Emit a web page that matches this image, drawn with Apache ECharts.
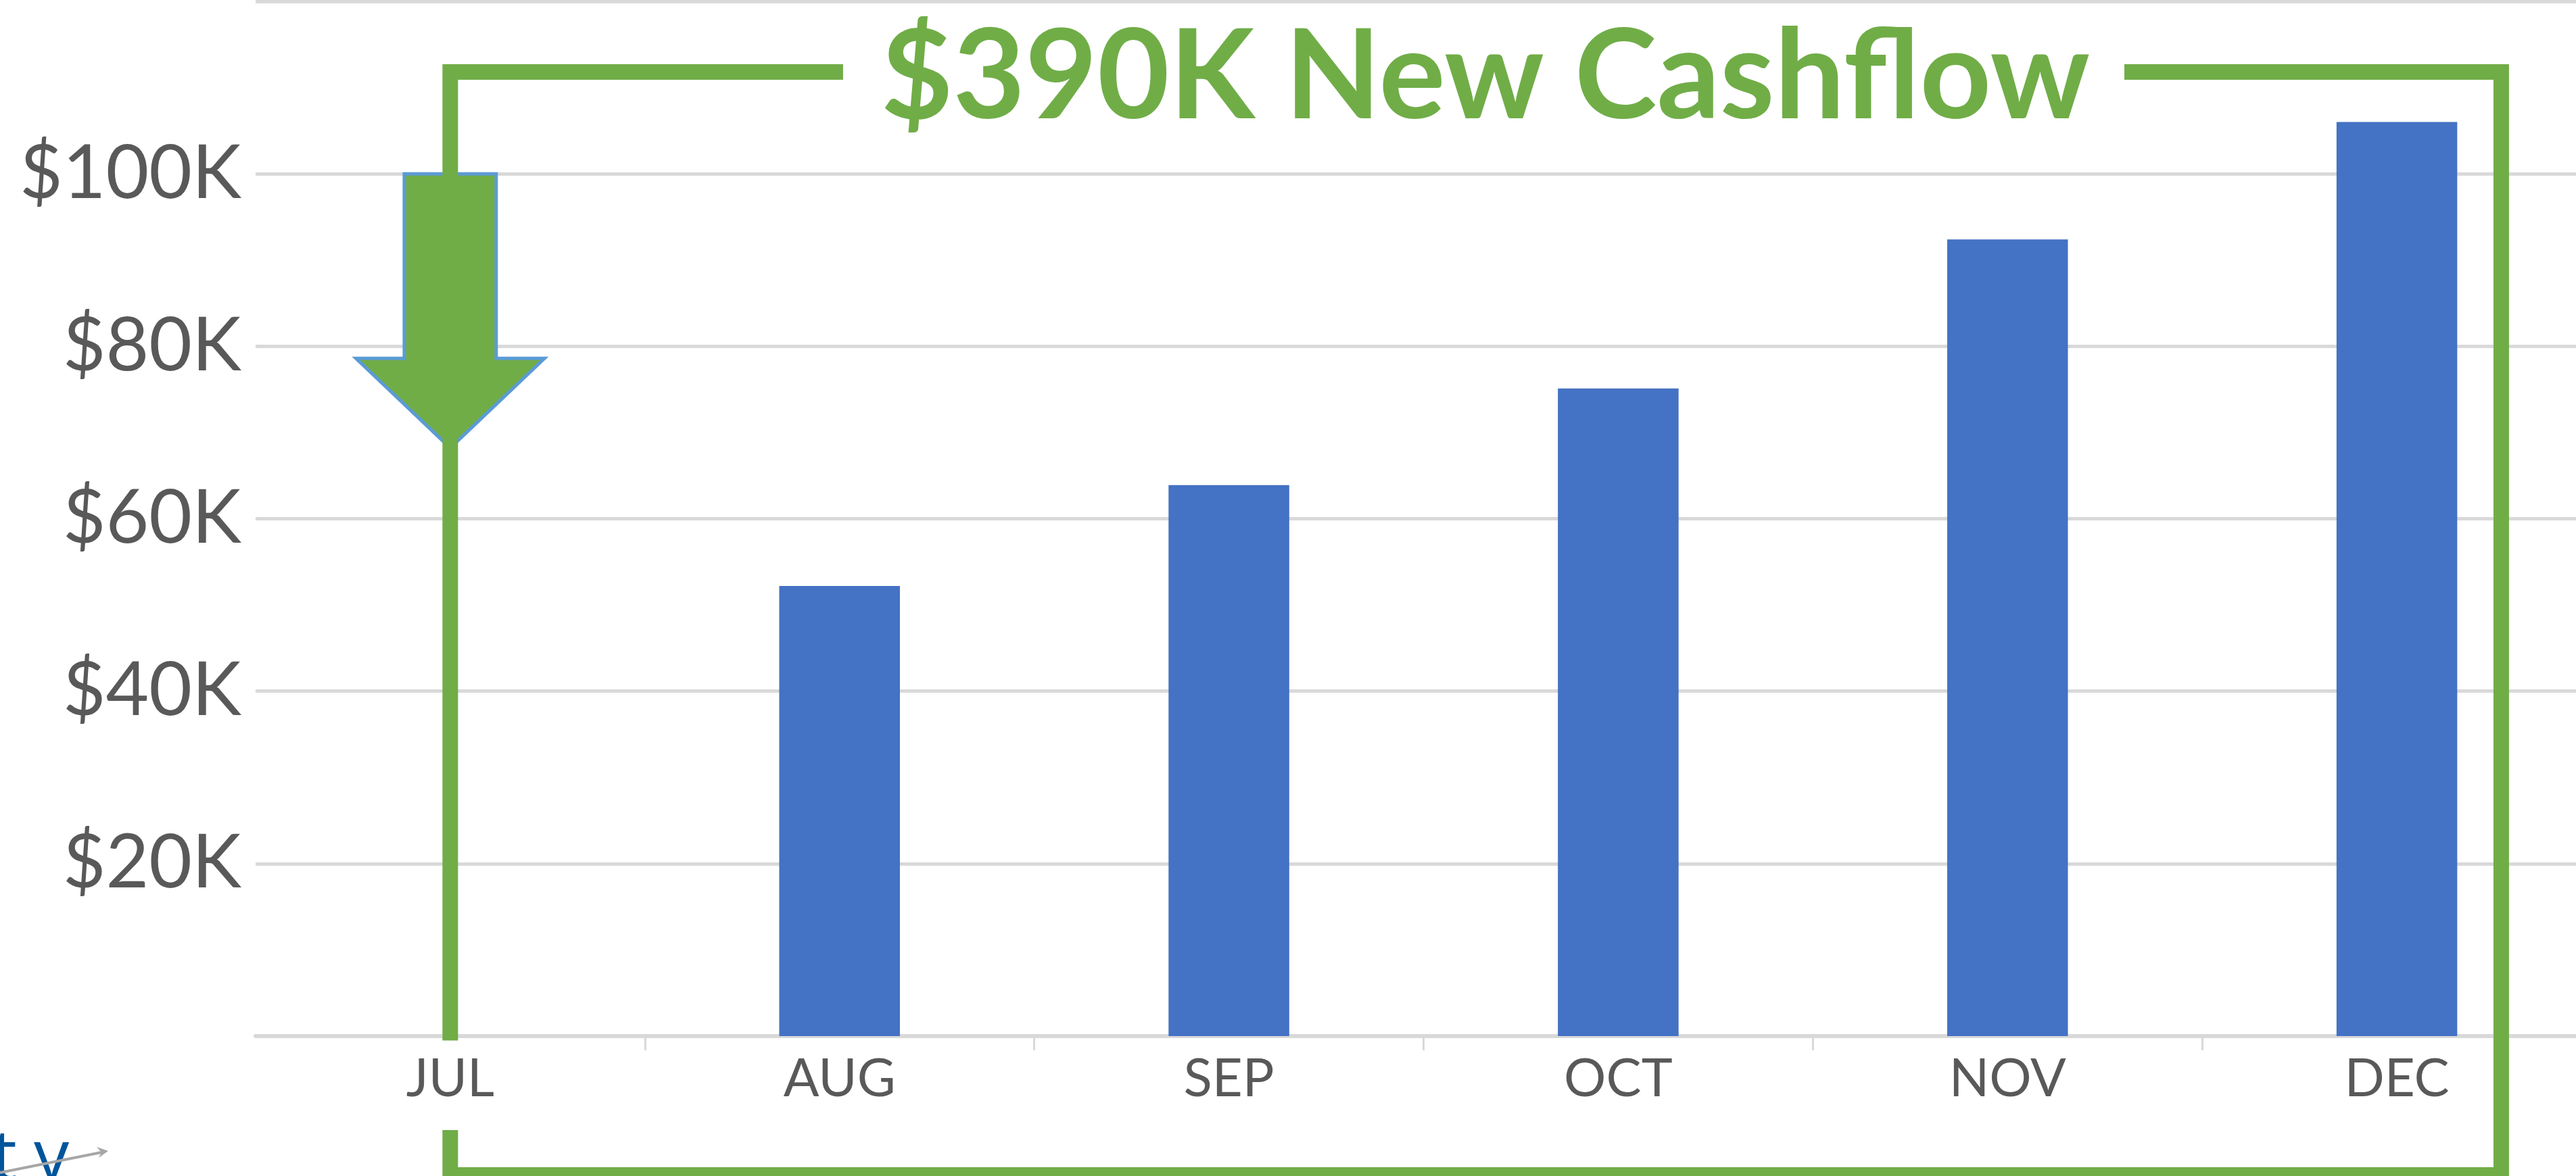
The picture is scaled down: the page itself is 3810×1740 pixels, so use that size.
<!DOCTYPE html>
<html>
<head>
<meta charset="utf-8">
<script src="https://cdn.jsdelivr.net/npm/echarts@6/dist/echarts.min.js"></script>
<style>
html,body{margin:0;padding:0;background:#ffffff;overflow:hidden;width:3810px;height:1740px;}
#chart{width:3833px;height:1740px;}
</style>
</head>
<body>
<div id="chart"></div>
<script>
// ---- data ----
const categories = ['JUL', 'AUG', 'SEP', 'OCT', 'NOV', 'DEC'];
const cashflow = [null, 52200, 63900, 75100, 92400, 106000];
const yTickValues = [0, 20000, 40000, 60000, 80000, 100000, 120000];
const yTickLabels = ['', '$20K', '$40K', '$60K', '$80K', '$100K', ''];
const titleText = '$390K New Cashflow';
const arrowPoint = [[0, 100000]];   // arrow at JUL, tail top at $100K
const bracketSpan = [[0, 5]];       // bracket from JUL to DEC
const logoChars = ['t', 'y'];

const GREEN = '#70AD47';
const BLUE = '#4472C4';
const GRAY_TXT = '#595959';
const GRID_C = '#D9D9D9';

function renderArrow(params, api) {
  const top = api.coord([api.value(0), api.value(1)]);
  const band = api.size([1, 0])[0];
  const cx = top[0];
  const yHead = api.coord([0, 78600])[1];
  const yTip = api.coord([0, 68200])[1];
  const sw = band * 0.118, hw = band * 0.242;
  return {
    type: 'polygon',
    shape: { points: [
      [cx - sw, top[1]], [cx + sw, top[1]], [cx + sw, yHead], [cx + hw, yHead],
      [cx, yTip], [cx - hw, yHead], [cx - sw, yHead]
    ] },
    style: { fill: GREEN, stroke: '#5B9BD5', lineWidth: 5, lineJoin: 'miter' }
  };
}

function renderBracket(params, api) {
  const band = api.size([1, 0])[0];
  const x0 = api.coord([api.value(0), 0])[0];
  const x5 = api.coord([api.value(1), 0])[0];
  const right = x5 + band * 0.268;
  const yTop = api.coord([0, 111800])[1];
  const yBot = api.coord([0, -16100])[1];
  const yAxisEnd = api.coord([0, -500])[1];
  const yResume = api.coord([0, -10900])[1];
  const gapL = x0 + band * 1.009;
  const gapR = x0 + band * 4.30;
  const st = { stroke: GREEN, lineWidth: 23, lineJoin: 'miter', lineCap: 'butt', fill: null };
  return {
    type: 'group',
    children: [
      { type: 'polyline', shape: { points: [[gapL, yTop], [x0, yTop], [x0, yAxisEnd]] }, style: st },
      { type: 'polyline', shape: { points: [[gapR, yTop], [right, yTop], [right, yBot], [x0, yBot], [x0, yResume]] }, style: st }
    ]
  };
}

const chart = echarts.init(document.getElementById('chart'), null, { renderer: 'canvas' });
chart.setOption({
  backgroundColor: '#ffffff',
  animation: false,
  title: {
    text: titleText,
    left: 2197,
    top: 24,
    padding: 0,
    textAlign: 'center',
    textStyle: { color: GREEN, fontFamily: 'Lato', fontWeight: 'bold', fontSize: 184 }
  },
  grid: { left: 378, right: 0, top: 2, bottom: 207, containLabel: false },
  xAxis: {
    type: 'category',
    data: categories,
    boundaryGap: true,
    axisLine: { show: true, lineStyle: { color: GRID_C, width: 6 } },
    axisTick: { show: true, length: 21, lineStyle: { color: GRID_C, width: 3 }, interval: function (i) { return i !== 0; } },
    axisLabel: { color: GRAY_TXT, fontFamily: 'Lato', fontSize: 78, margin: 25 },
    splitLine: { show: false }
  },
  yAxis: {
    type: 'value',
    min: 0,
    max: 120000,
    interval: 20000,
    axisLine: { show: false },
    axisTick: { show: false },
    splitLine: { show: true, lineStyle: { color: GRID_C, width: 5 } },
    axisLabel: {
      color: GRAY_TXT, fontFamily: 'Lato', fontSize: 110, margin: 21, padding: [10, 0, 0, 0],
      formatter: function (v) { const i = yTickValues.indexOf(v); return i >= 0 ? yTickLabels[i] : ''; }
    }
  },
  series: [
    {
      type: 'bar',
      data: cashflow,
      barWidth: '31%',
      itemStyle: { color: BLUE },
      z: 2
    },
    {
      type: 'custom',
      data: arrowPoint,
      renderItem: renderArrow,
      clip: false,
      z: 3
    },
    {
      type: 'custom',
      data: bracketSpan,
      renderItem: renderBracket,
      clip: false,
      z: 4
    }
  ],
  graphic: [
    { type: 'text', x: -12, y: 1664, style: { text: logoChars[0], fill: '#00559B', font: '500 104px "Open Sans"' } },
    { type: 'text', x: 50, y: 1664, style: { text: logoChars[1], fill: '#00559B', font: '500 104px "Open Sans"' } },
    { type: 'polyline', shape: { points: [[0, 1735], [150, 1705]] }, style: { stroke: '#A6A6A6', lineWidth: 4 } },
    { type: 'polygon', shape: { points: [[160, 1703], [143, 1697], [150, 1705], [146, 1713]] }, style: { fill: '#A6A6A6' } }
  ]
});
</script>
</body>
</html>
